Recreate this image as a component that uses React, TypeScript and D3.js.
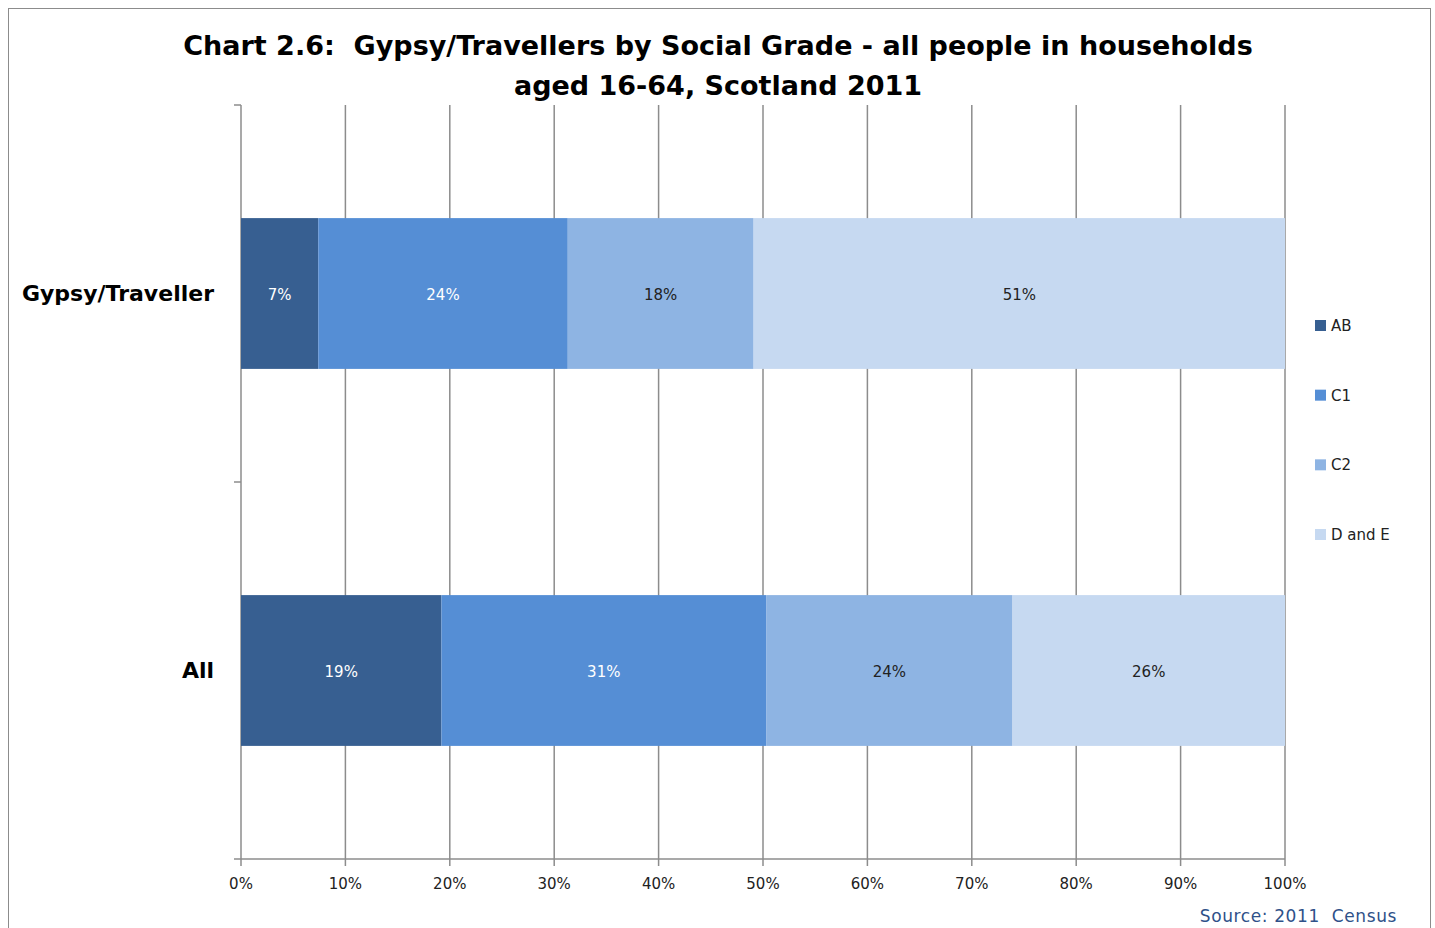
import React from 'react';
import * as d3 from 'd3';

const categories = ['Gypsy/Traveller', 'All'];
const grades = ['AB', 'C1', 'C2', 'D and E'];
// percentage shares per category, in grade order
const gypsyValues = [7.4, 23.9, 17.8, 50.9];
const allValues = [19.2, 31.1, 23.6, 26.1];
const valueLabels = [
  ['7%', '24%', '18%', '51%'],
  ['19%', '31%', '24%', '26%'],
];
const xTicks = [0, 10, 20, 30, 40, 50, 60, 70, 80, 90, 100];
const colors = ['#375F91', '#558ED5', '#8EB4E3', '#C6D9F1'];
const labelColors = ['#ffffff', '#ffffff', '#222222', '#222222'];

const W = 1435;
const H = 928;
const left = 241;
const right = 1285;
const top = 105;
const bottom = 859;

const font = 'DejaVu Sans, Verdana, sans-serif';

export default function App() {
  const x = d3.scaleLinear().domain([0, 100]).range([left, right]);
  const y = d3.scaleBand().domain(categories).range([top, bottom]).paddingInner(0.6).paddingOuter(0.3);
  const yOuter = d3.scaleBand().domain(categories).range([top, bottom]);

  const rows = [gypsyValues, allValues].map((vals, i) => {
    let acc = 0;
    return vals.map((v, j) => {
      const s = { x0: acc, x1: acc + v, grade: grades[j], label: valueLabels[i][j], idx: j };
      acc += v;
      return s;
    });
  });

  const legendY = d3.scalePoint().domain(grades).range([325, 534]);

  return (
    <svg width={W} height={H} style={{ position: 'absolute', left: 0, top: 0 }}>
      <rect x={0} y={0} width={W} height={H} fill="#fff" />
      <rect x={8.5} y={8.5} width={1422} height={940} fill="none" stroke="#8c8c8c" strokeWidth={1} />

      <text x={718} y={55} textAnchor="middle" fontFamily={font} fontWeight="bold" fontSize={27} fill="#000" style={{ whiteSpace: 'pre' }}>
        {'Chart 2.6:  Gypsy/Travellers by Social Grade - all people in households'}
      </text>
      <text x={718} y={95} textAnchor="middle" fontFamily={font} fontWeight="bold" fontSize={27} fill="#000">
        aged 16-64, Scotland 2011
      </text>

      {/* gridlines */}
      {xTicks.map((t) => (
        <line key={'g' + t} x1={x(t)} x2={x(t)} y1={top} y2={bottom + 7} stroke="#8c8c8c" strokeWidth={1.5} />
      ))}
      {/* x axis */}
      <line x1={left} x2={right} y1={bottom} y2={bottom} stroke="#8c8c8c" strokeWidth={1.5} />
      {xTicks.map((t) => (
        <text key={'t' + t} x={x(t)} y={889} textAnchor="middle" fontFamily={font} fontSize={15} fill="#222">
          {t}%
        </text>
      ))}
      {/* y axis ticks */}
      {[top, ...categories.map((c) => (yOuter(c) as number) + yOuter.bandwidth())].map((ty, i) => (
        <line key={'yt' + i} x1={left - 7} x2={left} y1={ty} y2={ty} stroke="#8c8c8c" strokeWidth={1.5} />
      ))}

      {/* bars */}
      {rows.map((segs, i) =>
        segs.map((s) => (
          <g key={i + s.grade}>
            <rect
              x={x(s.x0)}
              y={y(categories[i])}
              width={x(s.x1) - x(s.x0)}
              height={y.bandwidth()}
              fill={colors[s.idx]}
            />
            <text
              x={(x(s.x0) + x(s.x1)) / 2}
              y={(y(categories[i]) as number) + y.bandwidth() / 2 + 6}
              textAnchor="middle"
              fontFamily={font}
              fontSize={15}
              fill={labelColors[s.idx]}
            >
              {s.label}
            </text>
          </g>
        ))
      )}

      {/* category labels */}
      {categories.map((c) => (
        <text
          key={c}
          x={214}
          y={(y(c) as number) + y.bandwidth() / 2 + 7}
          textAnchor="end"
          fontFamily={font}
          fontWeight="bold"
          fontSize={22}
          fill="#000"
        >
          {c}
        </text>
      ))}

      {/* legend */}
      {grades.map((g, i) => (
        <g key={'l' + g}>
          <rect x={1315} y={(legendY(g) as number) - 5} width={11} height={11} fill={colors[i]} />
          <text x={1331} y={(legendY(g) as number) + 6} fontFamily={font} fontSize={15} fill="#222">
            {g}
          </text>
        </g>
      ))}

      <text x={1397} y={922} textAnchor="end" fontFamily={font} fontSize={17} letterSpacing={0.6} fill="#2F5189" style={{ whiteSpace: 'pre' }}>
        {'Source: 2011  Census'}
      </text>
    </svg>
  );
}
